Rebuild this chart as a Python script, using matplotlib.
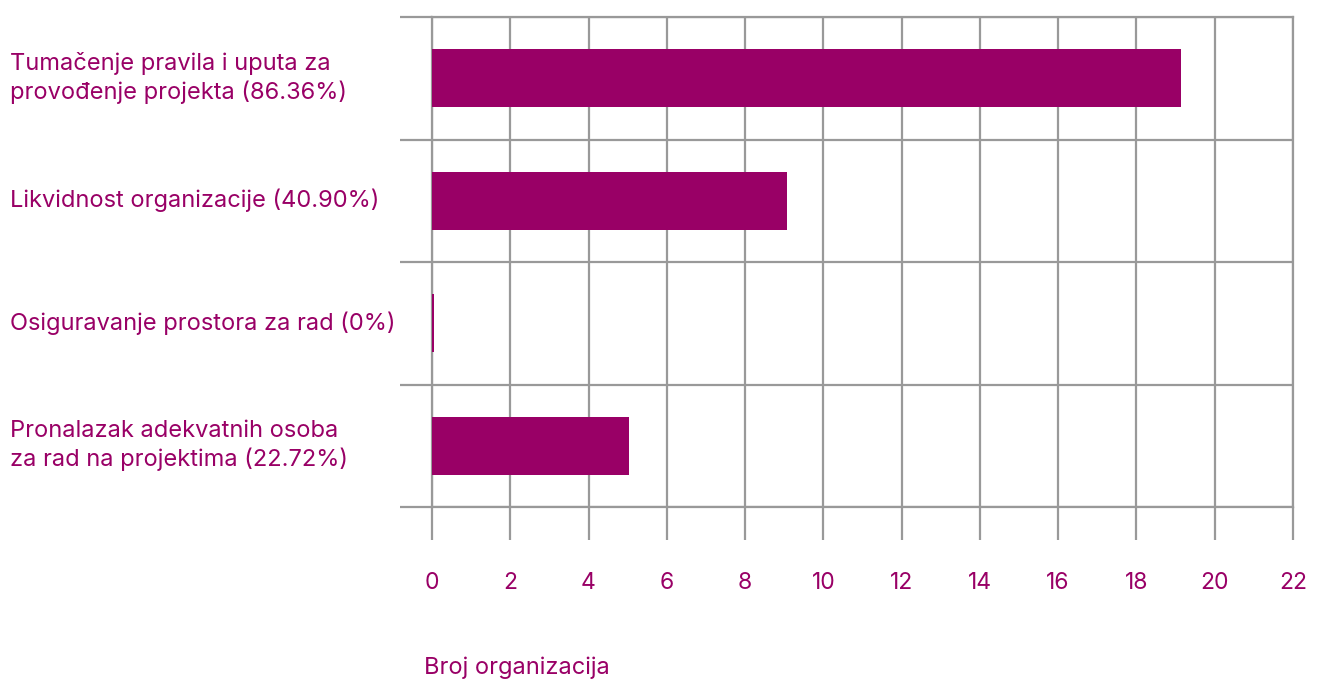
import matplotlib.pyplot as plt
import matplotlib.transforms as mtransforms
import numpy as np

# data
categories = ["Tumačenje pravila i uputa za\nprovođenje projekta (86.36%)",
              "Likvidnost organizacije (40.90%)",
              "Osiguravanje prostora za rad (0%)",
              "Pronalazak adekvatnih osoba\nza rad na projektima (22.72%)"]
values = [19.15, 9.07, 0.05, 5.03]
xticks = list(range(0, 23, 2))
xlabel = "Broj organizacija"

purple = "#990066"
grey = "#999999"
plt.rcParams['font.family'] = ['Inter', 'DejaVu Sans']

fig = plt.figure(figsize=(13.17, 6.82), dpi=100)
ax = fig.add_axes([432/1317, 1 - 507/682, (1293-432)/1317, (507-17)/682])

y = np.arange(len(categories))
ax.barh(y, values, height=0.47, color=purple, zorder=3)
ax.set_xlim(0, 22)
ax.set_ylim(len(categories) - 0.5, -0.5)

ax.set_xticks(xticks)
ax.set_xticklabels([str(t) for t in xticks])
ax.tick_params(axis='x', length=24, width=1.6, color=grey, pad=23,
               labelsize=16.5, labelcolor=purple)
ax.set_yticks([])
ax.set_yticks(np.arange(-0.5, len(categories)), minor=True)
ax.tick_params(axis='y', which='minor', length=23, width=1.6, color=grey)
ax.grid(True, axis='x', color=grey, linewidth=1.6, zorder=1)
ax.grid(True, axis='y', which='minor', color=grey, linewidth=1.6, zorder=1)
for s in ax.spines.values():
    s.set_color(grey)
    s.set_linewidth(1.6)

# category labels, left aligned at the figure edge
trans = mtransforms.blended_transform_factory(fig.transFigure, ax.transData)
for yi, lab in zip(y, categories):
    ax.text(10/1317, yi, lab, transform=trans, ha='left', va='center',
            fontsize=17, color=purple, linespacing=1.3)

fig.text(424/1317, 1 - 668/682, xlabel, ha='left', va='center',
         fontsize=17, color=purple)

fig.savefig("out.png", dpi=100)
